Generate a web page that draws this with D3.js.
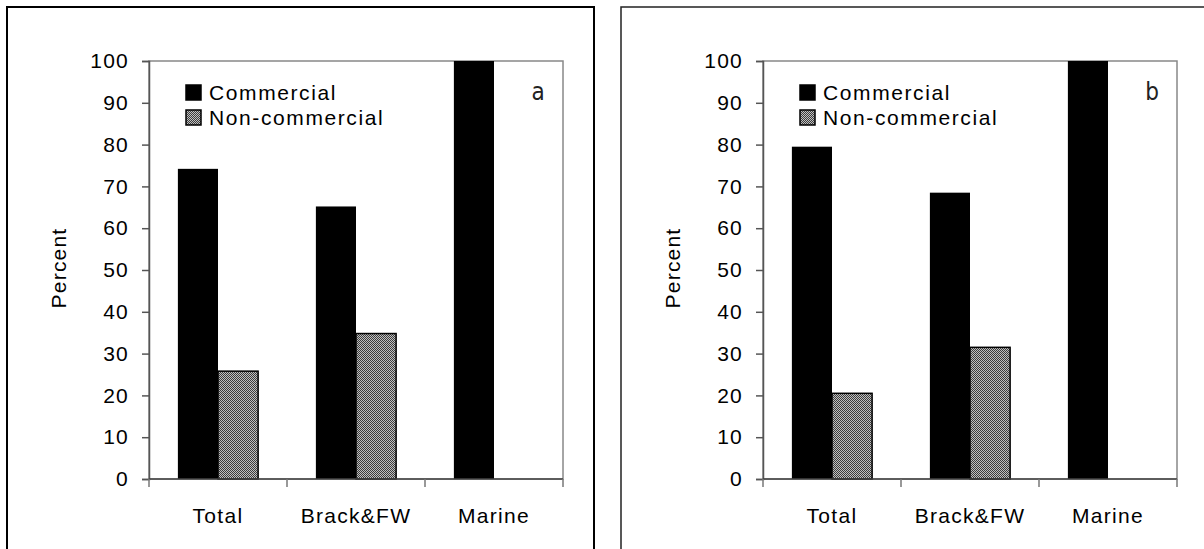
<!DOCTYPE html>
<html lang="en">
<head>
<meta charset="utf-8">
<title>Commercial vs non-commercial</title>
<script src="https://cdnjs.cloudflare.com/ajax/libs/d3/7.8.5/d3.min.js"></script>
<style>
  body { margin: 0; background: #fff; }
  text { font-family: "Liberation Sans", Arial, sans-serif; fill: #000; }
</style>
</head>
<body>
<svg id="canvas" width="1204" height="549"></svg>
<script>
// data
const categories = ["Total", "Brack&FW", "Marine"];
const seriesNames = ["Commercial", "Non-commercial"];
const panelA = { Commercial: [74.2, 65.2, 100], "Non-commercial": [25.8, 34.8, 0] };
const panelB = { Commercial: [79.5, 68.5, 100], "Non-commercial": [20.5, 31.5, 0] };
const yTicks = [0, 10, 20, 30, 40, 50, 60, 70, 80, 90, 100];
const panelLetters = ["a", "b"];

const svg = d3.select("#canvas");

// checker pattern for the non-commercial bars
const defs = svg.append("defs");
const pat = defs.append("pattern")
  .attr("id", "checker")
  .attr("width", 2).attr("height", 2)
  .attr("patternUnits", "userSpaceOnUse");
pat.append("rect").attr("width", 2).attr("height", 2).attr("fill", "#c0c0c0");
pat.append("rect").attr("width", 1).attr("height", 1).attr("fill", "#3c3c3c");
pat.append("rect").attr("x", 1).attr("y", 1).attr("width", 1).attr("height", 1).attr("fill", "#3c3c3c");

const fills = { Commercial: "#000", "Non-commercial": "url(#checker)" };

// outer frames of the two panels
svg.append("rect").attr("x", 7).attr("y", 7).attr("width", 587).attr("height", 560)
  .attr("fill", "none").attr("stroke", "#000").attr("stroke-width", 2);
svg.append("rect").attr("x", 621).attr("y", 7).attr("width", 600).attr("height", 560)
  .attr("fill", "none").attr("stroke", "#222").attr("stroke-width", 1.5);

function drawPanel(data, left, letter) {
  const top = 61, bottom = 479, right = left + 414;

  const x0 = d3.scaleBand().domain(categories).range([left, right]);
  const x1 = d3.scaleBand().domain(seriesNames).range([0, x0.bandwidth()])
    .paddingInner(0).paddingOuter(0.72);
  const y = d3.scaleLinear().domain([0, 100]).range([bottom, top]);

  const g = svg.append("g");

  // plot area frame (grey)
  g.append("rect").attr("x", left).attr("y", top)
    .attr("width", right - left).attr("height", bottom - top)
    .attr("fill", "none").attr("stroke", "#888").attr("stroke-width", 1.5);

  // bars
  seriesNames.forEach(function (s) {
    g.selectAll(null)
      .data(categories.map((c, i) => ({ c: c, v: data[s][i] })).filter(d => d.v > 0))
      .join("rect")
      .attr("x", d => x0(d.c) + x1(s))
      .attr("y", d => y(d.v))
      .attr("width", x1.bandwidth())
      .attr("height", d => bottom - y(d.v))
      .attr("fill", fills[s])
      .attr("stroke", "#000")
      .attr("stroke-width", s === "Commercial" ? 0 : 1.5);
  });

  // y axis
  const yAxis = d3.axisLeft(y).tickValues(yTicks).tickSize(7).tickPadding(13);
  const ya = g.append("g").attr("transform", `translate(${left},0)`).call(yAxis);
  ya.select(".domain").attr("stroke", "#555").attr("stroke-width", 1.5);
  ya.selectAll(".tick line").attr("stroke", "#555").attr("stroke-width", 1.5);
  ya.selectAll(".tick text").style("font-size", "21px").style("letter-spacing", "1.2px")
    .attr("font-family", null);

  // x axis: ticks at category boundaries
  g.append("line").attr("x1", left).attr("x2", right).attr("y1", bottom).attr("y2", bottom)
    .attr("stroke", "#444").attr("stroke-width", 1.5);
  const bounds = categories.map(c => x0(c)).concat([right]);
  g.selectAll(null).data(bounds).join("line")
    .attr("x1", d => d).attr("x2", d => d)
    .attr("y1", bottom).attr("y2", bottom + 8)
    .attr("stroke", "#777").attr("stroke-width", 1.5);
  g.selectAll(null).data(categories).join("text")
    .attr("x", d => x0(d) + x0.bandwidth() / 2)
    .attr("y", 523)
    .attr("text-anchor", "middle")
    .style("font-size", "21px").style("letter-spacing", "1.3px")
    .text(d => d);

  // y title
  g.append("text")
    .attr("transform", `translate(${left - 83},268) rotate(-90)`)
    .attr("text-anchor", "middle")
    .style("font-size", "21px").style("letter-spacing", "1.2px")
    .text("Percent");

  // legend
  const lg = g.append("g").attr("transform", `translate(${left + 37},85)`);
  seriesNames.forEach(function (s, i) {
    lg.append("rect").attr("x", 0).attr("y", i * 25).attr("width", 15).attr("height", 15)
      .attr("fill", fills[s]).attr("stroke", "#000").attr("stroke-width", 1.5);
    lg.append("text").attr("x", 23).attr("y", i * 25 + 15)
      .style("font-size", "21px").style("letter-spacing", "1.6px")
      .text(s);
  });

  // panel letter
  g.append("text")
    .attr("x", right - 25).attr("y", 100)
    .attr("text-anchor", "middle")
    .style("font-family", "'Liberation Sans Narrow', 'DejaVu Sans Condensed', sans-serif")
    .style("font-size", "24px")
    .style("fill", "#222")
    .text(letter);
}

drawPanel(panelA, 149, panelLetters[0]);
drawPanel(panelB, 763, panelLetters[1]);
</script>
</body>
</html>
